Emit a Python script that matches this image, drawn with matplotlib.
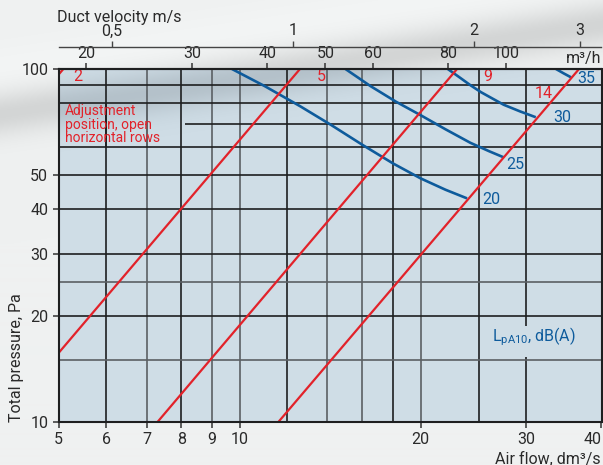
import numpy as np
import matplotlib
matplotlib.use("Agg")
import matplotlib.pyplot as plt
from matplotlib.ticker import FixedLocator, NullLocator, NullFormatter, FixedFormatter
from matplotlib.colors import to_rgb

plt.rcParams['font.family'] = ['Roboto', 'DejaVu Sans']
plt.rcParams['mathtext.fontset'] = 'custom'
plt.rcParams['mathtext.rm'] = 'Roboto'

# ---------------- data ----------------
flow_ticks = [5, 6, 7, 8, 9, 10, 20, 30, 40]
pressure_ticks = [10, 20, 30, 40, 50, 100]
m3h_ticks = [20, 30, 40, 50, 60, 80, 100]
velocity_ticks = [0.5, 1, 2, 3]
velocity_labels = ['0,5', '1', '2', '3']
grid_flow = [6, 7, 8, 9, 10, 12, 14, 16, 18, 20, 25, 30]
grid_pressure = [15, 20, 25, 30, 40, 50, 60, 70, 80, 90]
duct_diameter_mm = 125

# adjustment positions (straight lines, flow dm3/s vs pressure Pa)
pos_labels = ['2', '5', '9', '14']
pos_flow = [[5.0, 5.09], [5.0, 12.6], [7.3, 23.0], [11.6, 36.7]]
pos_pressure = [[96.5, 100], [15.7, 100], [10, 100], [10, 100]]

# sound level curves LpA10 dB(A)
snd_labels = ['20', '25', '30', '35']
snd_flow = [[9.71, 11.0, 12.6, 14.2, 16.0, 18.0, 20.0, 22.0, 23.9],
            [15.0, 16.5, 18.2, 20.0, 22.0, 24.2, 26.0, 27.5],
            [22.2, 23.3, 24.2, 25.2, 26.4, 27.5, 29.3, 31.1],
            [33.6, 34.6, 35.6]]
snd_pressure = [[100, 89.5, 78.5, 69.4, 61.0, 54.0, 49.0, 45.5, 43.0],
                [100, 89.5, 80.8, 74.0, 67.5, 61.8, 58.5, 56.2],
                [100, 94.3, 90.0, 86.0, 82.3, 79.2, 75.8, 73.0],
                [100, 97.2, 94.7]]

# ---------------- layout / style ----------------
RED = '#e2222a'
BLUE = '#0e5b9c'
DARK = '#1e1f20'
GRAY = '#5b6064'
AX_BG = '#cfdde6'
FIG_BG = '#eff1f1'

pos_label_xy = [(5.38, 95), (13.7, 95), (25.9, 95), (32.0, 85.5)]
snd_label_xy = [(26.2, 42.8), (28.7, 53.5), (34.4, 73.1), (37.8, 93.7)]
dark_vert = {6, 8, 12, 18, 25, 30}
dark_horiz = {20, 30, 40, 50, 60, 70, 80, 90}
vert_segments = {6: [(10, 80), (60, 100)], 7: [(10, 80), (60, 100)],
                 30: [(10, 15.3), (18.7, 100)]}
horiz_segments = {70: [(8.1, 40)]}

W, H = 603, 465
AX_L, AX_R, AX_T, AX_B = 58.7, 601.5, 69, 422

fig = plt.figure(figsize=(W / 100, H / 100), dpi=100, facecolor=FIG_BG)


# decorative diagonal shading band of the page
def band(xp, yp):
    yl = 115 - 90 * xp / W
    d = (yp - yl)
    dark = np.exp(-(d / 22.0) ** 2)
    light = 0.5 * np.exp(-((d + 45) / 25.0) ** 2)
    return dark, light


bg = fig.add_axes([0, 0, 1, 1], zorder=-5)
bg.set_axis_off()
yy, xx = np.mgrid[0:H, 0:W]
dk, lt = band(xx + 0.5, yy + 0.5)
base = np.array(to_rgb(FIG_BG))
img = base[None, None, :] - dk[..., None] * 0.11 + lt[..., None] * 0.03
bg.imshow(np.clip(img, 0, 1), extent=[0, 1, 0, 1], aspect='auto', origin='upper',
          interpolation='bilinear')
bg.set_xlim(0, 1)
bg.set_ylim(0, 1)

ax = fig.add_axes([AX_L / W, 1 - AX_B / H, (AX_R - AX_L) / W, (AX_B - AX_T) / H])
ax.set_facecolor(AX_BG)
ax.set_xscale('log')
ax.set_yscale('log')
ax.set_xlim(5, 40)
ax.set_ylim(10, 100)

# shading inside plot area
ayy, axx = np.mgrid[AX_T:AX_B, AX_L:AX_R]
adk, _ = band(axx, ayy)
ov = np.zeros(adk.shape + (4,))
ov[..., :3] = np.array(to_rgb('#6f7a82'))[None, None, :]
ov[..., 3] = adk * 0.28
ax.imshow(ov, extent=[0, 1, 0, 1], transform=ax.transAxes, aspect='auto',
          origin='upper', zorder=0.5, interpolation='bilinear')
ax.set_xlim(5, 40)
ax.set_ylim(10, 100)

# grid
for v in grid_flow:
    segs = vert_segments.get(v, [(10, 100)])
    c = DARK if v in dark_vert else GRAY
    for (a, b) in segs:
        ax.plot([v, v], [a, b], color=c, lw=1.2, zorder=1, solid_capstyle='butt')
for h in grid_pressure:
    segs = horiz_segments.get(h, [(5, 40)])
    c = DARK if h in dark_horiz else GRAY
    for (a, b) in segs:
        ax.plot([a, b], [h, h], color=c, lw=1.2, zorder=1, solid_capstyle='butt')

# red adjustment lines
for q, p, lab, xy in zip(pos_flow, pos_pressure, pos_labels, pos_label_xy):
    ax.plot(q, p, color=RED, lw=1.6, zorder=4)
    ax.text(xy[0], xy[1], lab, color=RED, fontsize=11.5, ha='center', va='center', zorder=5)

# blue sound curves
for q, p, lab, xy in zip(snd_flow, snd_pressure, snd_labels, snd_label_xy):
    ax.plot(q, p, color=BLUE, lw=1.9, zorder=3, solid_capstyle='butt', solid_joinstyle='round')
    ax.text(xy[0], xy[1], lab, color=BLUE, fontsize=11.5, ha='center', va='center', zorder=5)

ax.text(30.9, 17.4, r'L$_{\mathregular{pA10}}$, dB(A)', color=BLUE, fontsize=11.5,
        ha='center', va='center', zorder=5)
ax.text(5.12, 79.5, 'Adjustment\nposition, open\nhorizontal rows', color=RED,
        fontsize=10, ha='left', va='top', linespacing=0.95, zorder=5)

# axes ticks
ax.xaxis.set_major_locator(FixedLocator(flow_ticks))
ax.xaxis.set_major_formatter(FixedFormatter([str(t) for t in flow_ticks]))
ax.xaxis.set_minor_locator(NullLocator())
ax.xaxis.set_minor_formatter(NullFormatter())
ax.yaxis.set_major_locator(FixedLocator(pressure_ticks))
ax.yaxis.set_major_formatter(FixedFormatter([str(t) for t in pressure_ticks]))
ax.yaxis.set_minor_locator(NullLocator())
ax.yaxis.set_minor_formatter(NullFormatter())
ax.tick_params(axis='both', which='major', direction='out', length=4.5, width=1.1,
               color='#333333', labelsize=11.5, labelcolor='#2a2a2a', pad=3)
for s in ax.spines.values():
    s.set_color(DARK)
    s.set_linewidth(1.5)
    s.set_zorder(6)

# top axis: m3/h
ax_m = ax.secondary_xaxis('top', functions=(lambda q: q * 3.6, lambda m: m / 3.6))
ax_m.xaxis.set_major_locator(FixedLocator(m3h_ticks))
ax_m.xaxis.set_major_formatter(FixedFormatter([str(t) for t in m3h_ticks]))
ax_m.xaxis.set_minor_locator(NullLocator())
ax_m.xaxis.set_minor_formatter(NullFormatter())
ax_m.tick_params(direction='out', length=4, width=1.1, color='#333333',
                 labelsize=11.5, labelcolor='#2a2a2a', pad=2)
for s in ax_m.spines.values():
    s.set_color(DARK)
    s.set_linewidth(1.5)

# duct velocity axis
area = np.pi * (duct_diameter_mm / 2000) ** 2
ax_v = ax.secondary_xaxis(1 + (AX_T - 46.7) / (AX_B - AX_T),
                          functions=(lambda q: q / 1000 / area, lambda v: v * area * 1000))
ax_v.xaxis.set_major_locator(FixedLocator(velocity_ticks))
ax_v.xaxis.set_major_formatter(FixedFormatter(velocity_labels))
ax_v.xaxis.set_minor_locator(NullLocator())
ax_v.xaxis.set_minor_formatter(NullFormatter())
ax_v.tick_params(direction='out', length=4, width=1.0, color='#444444',
                 labelsize=11.5, labelcolor='#2a2a2a', pad=2)
for s in ax_v.spines.values():
    s.set_color('#444444')
    s.set_linewidth(1.0)

fig.canvas.draw()
xl = ax.get_xticklabels()
xl[-1].set_horizontalalignment('right')

fig.text(566 / W, 1 - 63 / H, 'm³/h', fontsize=11.5, color='#2a2a2a',
         ha='left', va='baseline')
fig.text(57 / W, 1 - 21.7 / H, 'Duct velocity m/s', fontsize=11.5, color='#2a2a2a',
         ha='left', va='baseline')
fig.text(495 / W, 1 - 463.5 / H, 'Air flow, dm³/s', fontsize=11.5, color='#2a2a2a',
         ha='left', va='baseline')
fig.text(17 / W, 1 - AX_B / H, 'Total pressure, Pa', fontsize=11.5, color='#2a2a2a',
         rotation=90, ha='center', va='bottom')

fig.savefig('out.png', dpi=100, facecolor=FIG_BG)
